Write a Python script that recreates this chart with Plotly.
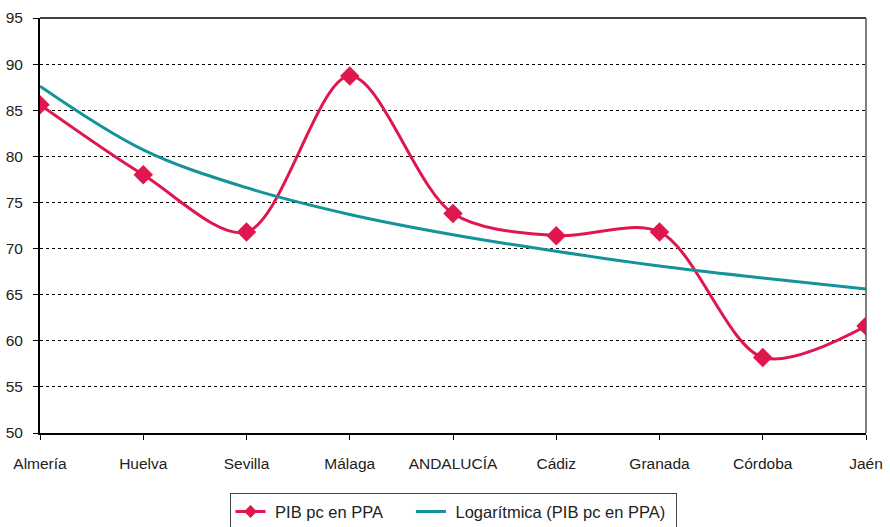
import plotly.graph_objects as go

categories = ["Almería", "Huelva", "Sevilla", "Málaga", "ANDALUCÍA", "Cádiz", "Granada", "Córdoba", "Jaén"]
pib_pc_ppa = [85.6, 78.0, 71.8, 88.7, 73.8, 71.4, 71.8, 58.2, 61.6]
log_trend = [87.6, 80.7, 76.6, 73.7, 71.5, 69.7, 68.1, 66.8, 65.6]
y_ticks = [50, 55, 60, 65, 70, 75, 80, 85, 90, 95]
series_names = ["PIB pc en PPA", "Logarítmica (PIB pc en PPA)"]

RED = "#E0174F"
TEAL = "#14939A"
FONT = "Liberation Sans, Arial, sans-serif"
NB = "\u00a0"

fig = go.Figure()
fig.add_trace(go.Scatter(
    x=categories, y=pib_pc_ppa, name=series_names[0], showlegend=False,
    mode="lines+markers", line=dict(color=RED, width=3, shape="spline", smoothing=0.9),
    marker=dict(symbol="diamond", size=15, color=RED),
))
fig.add_trace(go.Scatter(
    x=categories, y=log_trend, name=series_names[1], showlegend=False,
    mode="lines", line=dict(color=TEAL, width=3, shape="spline", smoothing=1.0),
))
# legend entries (smaller legend symbol, as in the original)
fig.add_trace(go.Scatter(
    x=[None], y=[None], name=NB + series_names[0] + NB * 5,
    mode="lines+markers", line=dict(color=RED, width=3),
    marker=dict(symbol="diamond", size=10, color=RED),
))
fig.add_trace(go.Scatter(
    x=[None], y=[None], name=NB + series_names[1] + NB,
    mode="lines", line=dict(color=TEAL, width=3),
))

fig.update_layout(
    width=890, height=527,
    margin=dict(l=40, r=24, t=18, b=94),
    plot_bgcolor="white", paper_bgcolor="white",
    font=dict(family=FONT, size=16, color="#222"),
    showlegend=True,
    legend=dict(
        orientation="h", x=0.5, xanchor="center", xref="paper",
        yref="container", y=0.064, yanchor="top",
        bordercolor="#444", borderwidth=1, font=dict(size=16.5, color="#222"),
        tracegroupgap=0,
    ),
    xaxis=dict(
        type="category", range=[0, 8], showgrid=False, automargin=False,
        showline=True, linecolor="black", linewidth=2, mirror=False,
        ticks="outside", ticklen=5, tickcolor="black", tickwidth=1,
        ticklabelstandoff=10, tickfont=dict(size=15.5),
    ),
    yaxis=dict(
        range=[50, 95], tickvals=y_ticks, automargin=False,
        showgrid=True, gridcolor="black", gridwidth=1, griddash="dot",
        showline=True, linecolor="black", linewidth=2,
        ticks="outside", ticklen=5, tickcolor="black",
        ticklabelstandoff=7, tickfont=dict(size=15.5), zeroline=False,
    ),
    shapes=[
        dict(type="line", xref="paper", yref="paper", x0=0, x1=1, y0=1, y1=1,
             line=dict(color="black", width=1.5)),
        dict(type="line", xref="paper", yref="paper", x0=1, x1=1, y0=0, y1=1,
             line=dict(color="#555", width=1.5)),
    ],
)

fig.write_html("out.html")
